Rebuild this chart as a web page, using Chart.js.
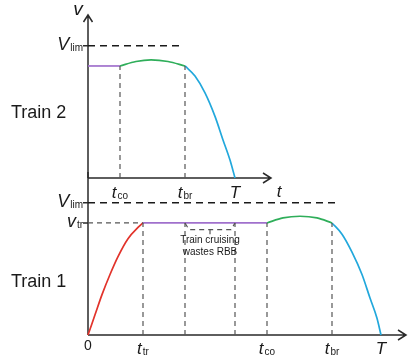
<!DOCTYPE html>
<html>
<head>
<meta charset="utf-8">
<script src="https://cdn.jsdelivr.net/npm/chart.js@4.4.0/dist/chart.umd.min.js"></script>
<style>
  html, body { margin: 0; padding: 0; background: #fff; }
  #wrap { position: relative; width: 408px; height: 360px; }
  #wrap canvas { position: absolute; left: 0; top: 0; }
</style>
</head>
<body>
<div id="wrap">
  <canvas id="train2" width="408" height="360"></canvas>
  <canvas id="train1" width="408" height="360"></canvas>
</div>
<script>
// speed levels (v_tr = 1)
const V_TR = 1.0;
const V_LIM = 1.18;

// Train 1 speed profile, one segment per driving mode
const accelT = [0, 0.7, 1.4, 2.2, 3.0, 4.0, 5.0, 5.5];
const accelV = [0, 0.18, 0.36, 0.54, 0.70, 0.86, 0.96, 1.0];
const cruise1T = [5.5, 17.9];
const cruise1V = [1.0, 1.0];
const coast1T = [17.9, 19.5, 21.2, 22.9, 24.4];
const coast1V = [1.0, 1.045, 1.06, 1.045, 1.0];
const brake1T = [24.4, 25.4, 26.4, 27.4, 28.2, 28.9, 29.3];
const brake1V = [1.0, 0.9, 0.74, 0.54, 0.33, 0.15, 0];

// Train 2 speed profile
const cruise2T = [0, 3.2];
const cruise2V = [1.0, 1.0];
const coast2T = [3.2, 4.8, 6.3, 8.0, 9.7];
const coast2V = [1.0, 1.04, 1.055, 1.04, 1.0];
const brake2T = [9.7, 10.7, 11.7, 12.7, 13.5, 14.2, 14.7];
const brake2V = [1.0, 0.91, 0.76, 0.55, 0.34, 0.16, 0];

// drop lines and time ticks
const drop1T = [5.5, 9.7, 14.7, 17.9, 24.4];
const drop2T = [3.2, 9.7];
const tick1T = [5.5, 17.9, 24.4, 29.3];
const tick1Sub = ['tr', 'co', 'br', ''];
const tick1Main = ['t', 't', 't', 'T'];
const tick2T = [3.2, 9.7, 14.7];
const tick2Sub = ['co', 'br', ''];
const tick2Main = ['t', 't', 'T'];

// bracket under the wasted cruising stretch
const bracketT = [9.7, 10.1, 14.3, 14.7];
const bracketV = [1.0, 0.94, 0.94, 1.0];
const bracketMidT = [12.2, 12.2];
const bracketMidV = [0.94, 0.9];

const RED = '#e2332b';
const PURPLE = '#a070cc';
const GREEN = '#2fae5a';
const CYAN = '#22a8dc';
const INK = '#1a1a1a';
const FONT = '"Liberation Sans", Arial, sans-serif';

function pts(xs, ys) {
  return xs.map((x, i) => ({ x: x, y: ys[i] }));
}

function curve(xs, ys, color) {
  return {
    data: pts(xs, ys), borderColor: color, borderWidth: 1.7,
    pointRadius: 0, fill: false, clip: false,
    cubicInterpolationMode: 'monotone'
  };
}

function dashed(xs, ys, color, dash, width) {
  return {
    data: pts(xs, ys), borderColor: color, borderWidth: width,
    borderDash: dash, pointRadius: 0, fill: false, clip: false, tension: 0
  };
}

// italic main letter with an upright subscript
function drawSub(ctx, x, y, main, sub, size, subSize, align) {
  ctx.font = 'italic ' + size + 'px ' + FONT;
  const wm = ctx.measureText(main).width;
  ctx.font = subSize + 'px ' + FONT;
  const ws = sub ? ctx.measureText(sub).width + 1 : 0;
  let left = align === 'right' ? x - wm - ws : x - (wm + ws) / 2;
  ctx.textAlign = 'left';
  ctx.textBaseline = 'alphabetic';
  ctx.font = 'italic ' + size + 'px ' + FONT;
  ctx.fillText(main, left, y);
  if (sub) {
    ctx.font = subSize + 'px ' + FONT;
    ctx.fillText(sub, left + wm + 1, y + 1);
  }
}

const diagram = {
  id: 'diagram',
  beforeDatasetsDraw(chart, args, opts) {
    const ctx = chart.ctx;
    const xs = chart.scales.x, ys = chart.scales.y;
    const x0 = xs.getPixelForValue(0), y0 = ys.getPixelForValue(0);
    const xEnd = xs.getPixelForValue(xs.max), yTop = ys.getPixelForValue(ys.max);
    ctx.save();
    ctx.strokeStyle = '#2a2a2a';
    ctx.lineWidth = 1.5;
    ctx.beginPath();
    ctx.moveTo(x0, y0); ctx.lineTo(x0, yTop);
    ctx.moveTo(x0, y0); ctx.lineTo(xEnd, y0);
    // x arrow
    ctx.moveTo(xEnd - 8, y0 - 5); ctx.lineTo(xEnd, y0); ctx.lineTo(xEnd - 8, y0 + 5);
    if (opts.yArrow) {
      ctx.moveTo(x0 - 4.5, yTop + 7); ctx.lineTo(x0, yTop); ctx.lineTo(x0 + 4.5, yTop + 7);
    }
    // small ticks at labelled speeds
    opts.yLabels.forEach(l => {
      const py = ys.getPixelForValue(l.v);
      ctx.moveTo(x0 - 5, py); ctx.lineTo(x0, py);
    });
    ctx.stroke();
    ctx.restore();
  },
  afterDraw(chart, args, opts) {
    const ctx = chart.ctx;
    const xs = chart.scales.x, ys = chart.scales.y;
    const x0 = xs.getPixelForValue(0), y0 = ys.getPixelForValue(0);
    ctx.save();
    ctx.fillStyle = INK;
    opts.xTicks.forEach((t, i) => {
      drawSub(ctx, xs.getPixelForValue(t), y0 + opts.xOffset, opts.xMain[i], opts.xSub[i], 17, 10, 'center');
    });
    opts.yLabels.forEach(l => {
      drawSub(ctx, x0 - 5, ys.getPixelForValue(l.v) + 4, l.main, l.sub, 18, 10, 'right');
    });
    if (opts.origin) {
      ctx.font = '14px ' + FONT;
      ctx.textAlign = 'center';
      ctx.fillText('0', x0, y0 + 15);
    }
    if (opts.xName) {
      drawSub(ctx, xs.getPixelForValue(opts.xName.v), y0 + 19, 't', '', 17, 10, 'center');
    }
    if (opts.yName) {
      drawSub(ctx, x0 - 10, ys.getPixelForValue(ys.max) + 0, 'v', '', 19, 10, 'center');
    }
    ctx.font = '18px ' + FONT;
    ctx.textAlign = 'left';
    ctx.fillText(opts.title, 11, opts.titleY);
    if (opts.note) {
      ctx.font = '10px ' + FONT;
      ctx.textAlign = 'center';
      const nx = xs.getPixelForValue(opts.note.t);
      opts.note.lines.forEach((line, i) => {
        ctx.fillText(line, nx, ys.getPixelForValue(opts.note.v) + i * 12);
      });
    }
    ctx.restore();
  }
};

function baseOptions(padding, xMax, yMax, diagramOpts) {
  return {
    responsive: false,
    animation: false,
    events: [],
    layout: { padding: padding },
    plugins: { legend: { display: false }, tooltip: { enabled: false }, diagram: diagramOpts },
    scales: {
      x: { type: 'linear', display: false, min: 0, max: xMax },
      y: { type: 'linear', display: false, min: 0, max: yMax }
    }
  };
}

// Train 2 (upper plot)
new Chart(document.getElementById('train2'), {
  type: 'line',
  data: {
    datasets: [
      dashed([0, 9.5], [V_LIM, V_LIM], INK, [7, 5], 1.5),
      dashed([drop2T[0], drop2T[0]], [0, V_TR], '#555', [5, 4], 1.2),
      dashed([drop2T[1], drop2T[1]], [0, V_TR], '#555', [5, 4], 1.2),
      curve(cruise2T, cruise2V, PURPLE),
      curve(coast2T, coast2V, GREEN),
      curve(brake2T, brake2V, CYAN)
    ]
  },
  options: baseOptions({ left: 88, right: 137, top: 15, bottom: 182 }, 18.3, 1.455, {
    xTicks: tick2T, xMain: tick2Main, xSub: tick2Sub, xOffset: 20,
    yLabels: [{ v: V_LIM, main: 'V', sub: 'lim' }],
    yArrow: true, yName: true, xName: { v: 19.1 },
    title: 'Train 2', titleY: 118
  }),
  plugins: [diagram]
});

// Train 1 (lower plot)
new Chart(document.getElementById('train1'), {
  type: 'line',
  data: {
    datasets: [
      dashed([0, 25.2], [V_LIM, V_LIM], INK, [7, 5], 1.5),
      dashed([0, drop1T[0]], [V_TR, V_TR], '#555', [5, 4], 1.2),
      ...drop1T.map(t => dashed([t, t], [0, V_TR], '#555', [5, 4], 1.2)),
      dashed(bracketT, bracketV, '#555', [5, 4], 1.2),
      dashed(bracketMidT, bracketMidV, '#555', [], 1.2),
      curve(accelT, accelV, RED),
      curve(cruise1T, cruise1V, PURPLE),
      curve(coast1T, coast1V, GREEN),
      curve(brake1T, brake1V, CYAN)
    ]
  },
  options: baseOptions({ left: 88, right: 2, top: 172, bottom: 25 }, 31.8, 1.455, {
    xTicks: tick1T, xMain: tick1Main, xSub: tick1Sub, xOffset: 19,
    yLabels: [{ v: V_LIM, main: 'V', sub: 'lim' }, { v: V_TR, main: 'v', sub: 'tr' }],
    yArrow: false, origin: true,
    title: 'Train 1', titleY: 287,
    note: { t: 12.2, v: 0.82, lines: ['Train cruising', 'wastes RBB'] }
  }),
  plugins: [diagram]
});
</script>
</body>
</html>
